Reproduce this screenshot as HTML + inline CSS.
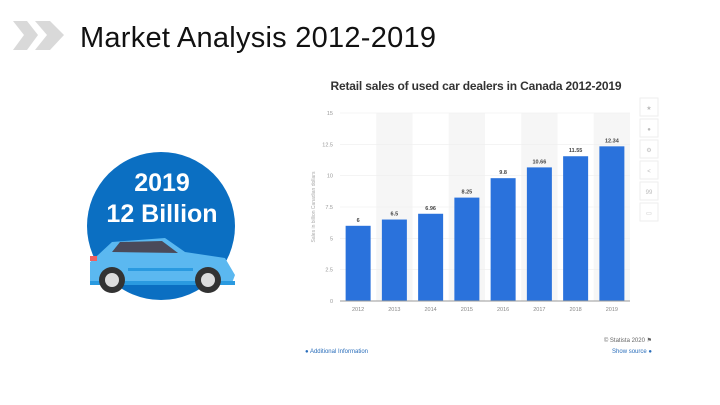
<!DOCTYPE html>
<html><head><meta charset="utf-8"><style>
body{margin:0;width:720px;height:405px;background:#fff;overflow:hidden;font-family:"Liberation Sans",sans-serif;position:relative}
.abs{position:absolute}
</style></head><body>
<svg class="abs" style="left:0;top:0" width="720" height="405">
  <g fill="#d9d9d9">
    <polygon points="13,21 27,21 38,35 27,50 13,50 24,35"/>
    <polygon points="35,21 50,21 64,35 50,50 35,50 47,35"/>
  </g>
  <text x="80" y="47" font-size="29" fill="#111" textLength="356">Market Analysis 2012-2019</text>
  <g>
    <circle cx="161" cy="226" r="74" fill="#0b6fc2"/>
    <text x="162" y="191" font-size="25" font-weight="bold" fill="#fff" text-anchor="middle">2019</text>
    <text x="162" y="222" font-size="25" font-weight="bold" fill="#fff" text-anchor="middle">12 Billion</text>
    <g>
      <path d="M98,255 L112,242 L165,238 L185,252 L225,258 L235,275 L232,283 L90,283 L90,262 Z" fill="#5bb8f0"/>
      <path d="M112,252 L120,242 L162,241 L178,253 Z" fill="#4a4a5a"/>
      <rect x="128" y="268" width="65" height="3" fill="#2a9ae0"/>
      <rect x="90" y="281" width="145" height="4" fill="#2a9ae0"/>
      <circle cx="112" cy="280" r="13" fill="#333"/><circle cx="112" cy="280" r="7" fill="#ddd"/>
      <circle cx="208" cy="280" r="13" fill="#333"/><circle cx="208" cy="280" r="7" fill="#ddd"/>
      <rect x="90" y="256" width="7" height="5" fill="#f06060"/>
    </g>
  </g>
  <text x="476" y="90" font-size="12" font-weight="bold" fill="#333" text-anchor="middle" textLength="291">Retail sales of used car dealers in Canada 2012-2019</text>
  <g id="chart"></g>
  <g fill="#fff" stroke="#eee">
    <rect x="640" y="98" width="18" height="18"/>
    <rect x="640" y="119" width="18" height="18"/>
    <rect x="640" y="140" width="18" height="18"/>
    <rect x="640" y="161" width="18" height="18"/>
    <rect x="640" y="182" width="18" height="18"/>
    <rect x="640" y="203" width="18" height="18"/>
  </g>
  <g font-size="6" fill="#bbb" text-anchor="middle">
    <text x="649" y="110">★</text><text x="649" y="131">●</text><text x="649" y="152">⚙</text><text x="649" y="173">&lt;</text><text x="649" y="194">99</text><text x="649" y="215">▭</text>
  </g>
  <text x="652" y="342" font-size="6" fill="#666" text-anchor="end">© Statista 2020 ⚑</text>
  <text x="305" y="353" font-size="6" fill="#2a6ebb">● Additional Information</text>
  <text x="652" y="353" font-size="6" fill="#2a6ebb" text-anchor="end">Show source ●</text>
  <text transform="translate(315,207) rotate(-90)" font-size="5" fill="#aaa" text-anchor="middle">Sales in billion Canadian dollars</text>
</svg>
<script>
const categories=["2012","2013","2014","2015","2016","2017","2018","2019"];
const values=[6,6.5,6.96,8.25,9.8,10.66,11.55,12.34];
const valueLabels=["6","6.5","6.96","8.25","9.8","10.66","11.55","12.34"];
const yTicks=[0,2.5,5,7.5,10,12.5,15];
const yTickLabels=["0","2.5","5","7.5","10","12.5","15"];
const NS="http://www.w3.org/2000/svg";
const g=document.getElementById('chart');
const x0=340,x1=630,y0=301,y1=113,ymax=15;
const band=(x1-x0)/categories.length;
const y=v=>y0-(v/ymax)*(y0-y1);
const xc=i=>x0+band*(i+0.5);
function mk(t,a){const e=document.createElementNS(NS,t);for(const k in a)e.setAttribute(k,a[k]);g.appendChild(e);return e;}
categories.forEach((c,i)=>{if(i%2==1){const r=mk('rect',{x:x0+band*i,y:y1,width:band,height:y0-y1,fill:'#f6f6f6'});

}});
yTicks.forEach((t,i)=>{const l=mk('line',{x1:x0,x2:x1,y1:y(t),y2:y(t),stroke:'#eee','stroke-width':0.6});


const tx=mk('text',{x:333,y:y(t)+2,'font-size':5.5,fill:'#999','text-anchor':'end'});tx.textContent=yTickLabels[i];

});
values.forEach((v,i)=>{const b=mk('rect',{x:xc(i)-12.5,y:y(v),width:25,height:y0-y(v),fill:'#2a72dc'});


const t=mk('text',{x:xc(i),y:y(v)-4,'font-size':5.5,'font-weight':'bold',fill:'#444','text-anchor':'middle'});t.textContent=valueLabels[i];


const c=mk('text',{x:xc(i),y:311,'font-size':5.5,fill:'#888','text-anchor':'middle'});c.textContent=categories[i];

});
const ax=mk('line',{x1:x0,x2:x1,y1:y0,y2:y0,stroke:'#999','stroke-width':1});


</script>
</body></html>
